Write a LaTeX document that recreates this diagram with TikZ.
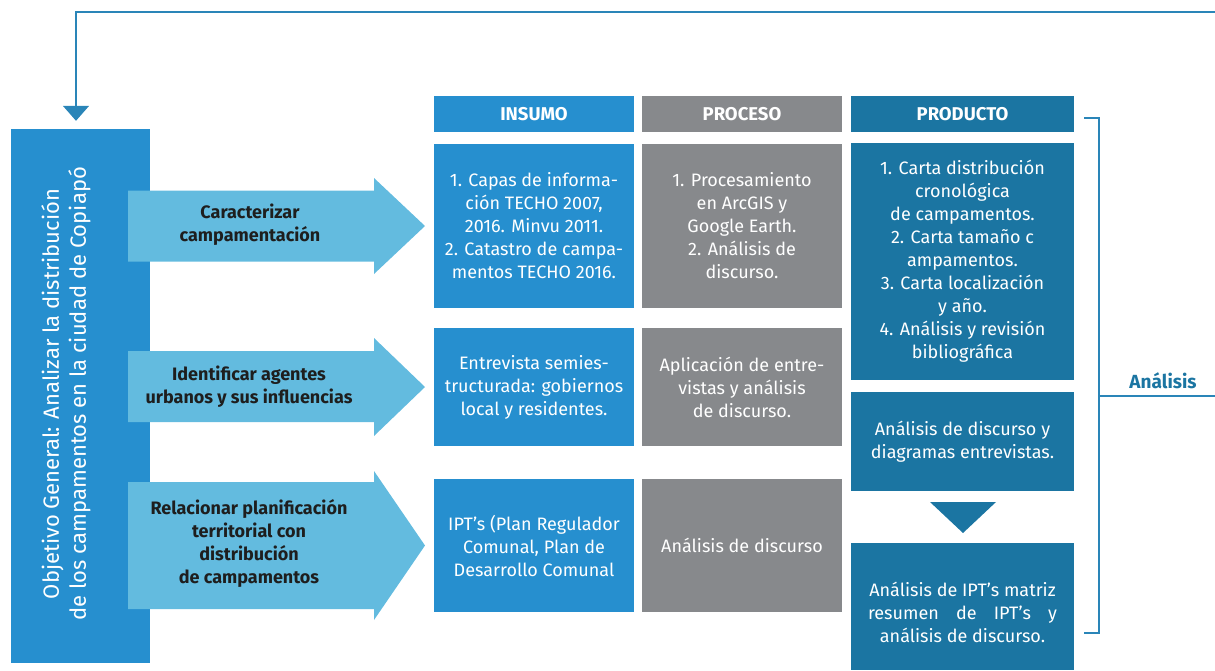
\documentclass[tikz,border=0pt]{standalone}
\usepackage{fontspec}
\setmainfont{Fira Sans}
\usetikzlibrary{arrows.meta}

\definecolor{objblue}{HTML}{268FCF}
\definecolor{arrowblue}{HTML}{63BBDF}
\definecolor{procgray}{HTML}{87898C}
\definecolor{proddark}{HTML}{1B75A2}
\definecolor{linkblue}{HTML}{2A85B8}
\definecolor{darktext}{HTML}{1E1E1E}

\begin{document}
\begin{tikzpicture}[x=1pt, y=-1pt,
  header/.style={fill=#1, text=white, inner sep=0pt, minimum height=36pt,
    font=\bfseries\fontsize{18.5}{20}\selectfont},
  cell/.style={fill=#1, text=white, inner sep=0pt, align=center,
    font=\fontsize{18}{23}\selectfont},
  arrowtext/.style={text=darktext, align=center,
    font=\bfseries\fontsize{18}{23}\selectfont},
  fbline/.style={draw=linkblue, line width=1.4pt}]
\useasboundingbox (0,0) rectangle (1215,670);

% general objective
\node[fill=objblue, minimum width=139pt, minimum height=534pt, inner sep=0pt] (obj) at (80.5,396) {};
\node[rotate=90, text=white, align=center, font=\fontsize{22}{27}\selectfont] (objtext) at (66,394)
  {Objetivo General: Analizar la distribución\\de los campamentos en la ciudad de Copiapó};

% feedback line
\coordinate (fbstart) at (1215,12);
\draw[fbline, -{Triangle[width=26pt, length=15pt]}, shorten >=8pt]
  (fbstart) -| ([xshift=-4.5pt]obj.north);

% specific objectives
\fill[arrowblue] (128,190.5) -- (374,190.5) -- (374,178) -- (425,226) -- (374,274) -- (374,261.5) -- (128,261.5) -- cycle;
\node[arrowtext] (spec1) at (250,225) {Caracterizar\\campamentación};
\fill[arrowblue] (128,351) -- (374,351) -- (374,338) -- (425,387) -- (374,436) -- (374,422) -- (128,422) -- cycle;
\node[arrowtext] (spec2) at (249,387) {Identificar agentes\\urbanos y sus influencias};
\fill[arrowblue] (128,482) -- (374,482) -- (374,471) -- (425,545.5) -- (374,620) -- (374,609) -- (128,609) -- cycle;
\node[arrowtext] (spec3) at (249,543.5) {Relacionar planificación\\territorial con\\distribución\\de campamentos};

% headers
\node[header=objblue, minimum width=200pt] (hins) at (534,114) {INSUMO};
\node[header=procgray, minimum width=200pt] (hpro) at (742,114) {PROCESO};
\node[header=proddark, minimum width=223pt] (hprod) at (962.5,114) {PRODUCTO};

% insumo
\node[cell=objblue, minimum width=200pt, minimum height=164pt] (ins1) at (534,226)
  {1. Capas de informa-\\ción TECHO 2007,\\2016. Minvu 2011.\\2. Catastro de campa-\\mentos TECHO 2016.};
\node[cell=objblue, minimum width=200pt, minimum height=118pt] (ins2) at (534,387)
  {Entrevista semies-\\tructurada: gobiernos\\local y residentes.};
\node[cell=objblue, minimum width=200pt, minimum height=133pt] (ins3) at (534,545.5)
  {IPT’s (Plan Regulador\\Comunal, Plan de\\Desarrollo Comunal};

% proceso
\node[cell=procgray, minimum width=200pt, minimum height=164pt] (pro1) at (742,226)
  {1. Procesamiento\\en ArcGIS y\\Google Earth.\\2. Análisis de\\discurso.};
\node[cell=procgray, minimum width=200pt, minimum height=118pt] (pro2) at (742,387)
  {Aplicación de entre-\\vistas y análisis\\de discurso.};
\node[cell=procgray, minimum width=200pt, minimum height=133pt] (pro3) at (742,545.5)
  {Análisis de discurso};

% producto
\node[cell=proddark, minimum width=223pt, minimum height=237pt] (prod1) at (962.5,261.5)
  {1. Carta distribución\\cronológica\\de campamentos.\\2. Carta tamaño c\\ampamentos.\\3. Carta localización\\y año.\\4. Análisis y revisión\\bibliográfica};
\node[cell=proddark, minimum width=223pt, minimum height=99pt] (prod2) at (962.5,441.5)
  {Análisis de discurso y\\diagramas entrevistas.};
\node[cell=proddark, minimum width=223pt, minimum height=127pt] (prod3) at (962.5,606.5) {};
\node[text=white, align=center, font=\fontsize{18}{23}\selectfont] (prod3text) at (962.5,612)
  {Análisis de IPT’s matriz\\\makebox[189pt][s]{resumen\hfill de\hfill IPT’s\hfill y}\\análisis de discurso.};
\fill[proddark] (930,502) -- (996,502) -- (963,533) -- cycle;

% analysis bracket
\coordinate (brtop) at (1084,118);
\coordinate (brbot) at (1084,633);
\coordinate (brend) at (1215,396);
\draw[draw=linkblue, line width=1.2pt] (brtop) -- ++(15,0) |- (brbot);
\draw[draw=linkblue, line width=1.2pt] (brend) -- (1099,396);
\node[text=proddark, font=\bfseries\fontsize{19}{20}\selectfont] (anl) at (1163,381) {Análisis};
\end{tikzpicture}
\end{document}
